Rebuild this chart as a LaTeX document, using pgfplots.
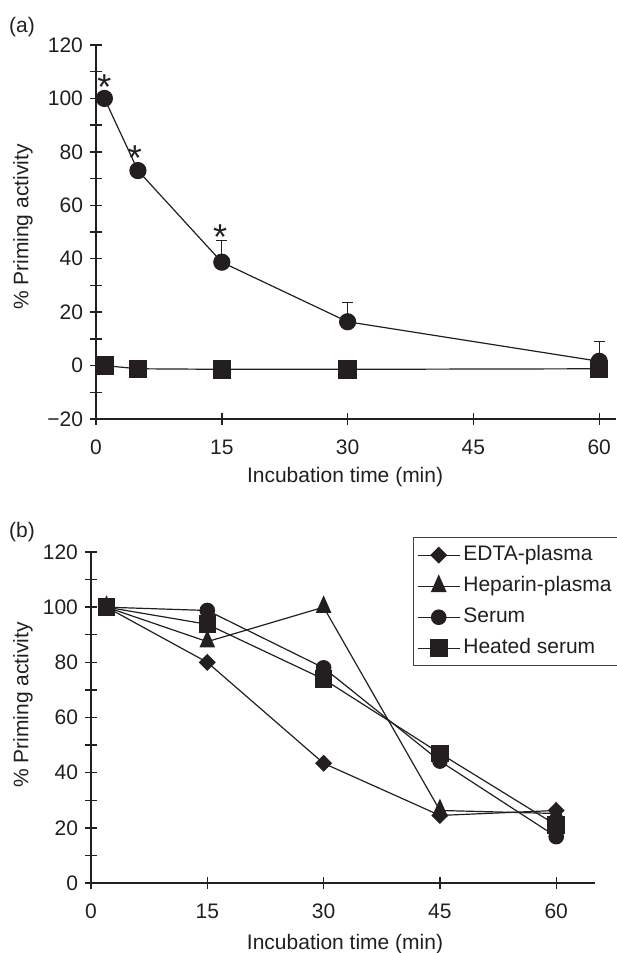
\documentclass[border=0pt]{standalone}
\usepackage{fontspec}
\setmainfont{Liberation Sans}
\usepackage{pgfplots}
\pgfplotsset{compat=1.18}
\definecolor{ink}{RGB}{35,31,32}

\pgfplotsset{
  panel/.style={
    scale only axis,
    axis x line=bottom, axis y line=left,
    axis line style={-, line width=0.8pt, draw=ink},
    tick align=center,
    major tick length=6pt, minor tick length=6pt,
    every tick/.style={line width=0.7pt, draw=ink},
    every minor tick/.style={line width=0.7pt, draw=ink},
    tick label style={font=\fontsize{10.5}{12}\selectfont, text=ink},
    xticklabel style={yshift=-4pt},
    label style={font=\fontsize{10.5}{12}\selectfont, text=ink},
    /pgf/number format/assume math mode=true,
    xtick={0,15,30,45,60},
    clip=false,
  },
}

\begin{document}
\begin{tikzpicture}
\useasboundingbox (0,0) rectangle (308pt,-476.5pt);

\node[font=\fontsize{10.5}{12}\selectfont, text=ink] at (11pt,-13.5pt) {(a)};
\node[font=\fontsize{10.5}{12}\selectfont, text=ink] at (11pt,-266pt) {(b)};

% panel (a)
\begin{axis}[panel,
    at={(48pt,-209.5pt)}, anchor=south west,
    width=260pt, height=187pt,
    xmin=0, xmax=62, ymin=-20, ymax=120,
    ytick={-20,0,...,120},
    yticklabels={−20,0,20,40,60,80,100,120},
    minor ytick={-10,10,...,110},
    xlabel={Incubation time (min)},
    ylabel={\% Priming activity},
    xlabel style={at={(axis description cs:0.479,0)}, anchor=base, yshift=-31.5pt},
    ylabel style={at={(axis description cs:0,0.513)}, anchor=center, yshift=36.5pt},
]
\addplot[ink, line width=0.6pt, mark=*, mark size=4pt,
    mark options={solid, fill=ink, draw=ink},
    error bars/.cd, y dir=plus, y explicit, error mark=-,
    error mark options={rotate=90, draw=ink, line width=0.6pt, mark size=2.75pt},
    error bar style={draw=ink, line width=0.6pt}]
  coordinates {
    (1,100) +- (0,0)
    (5,73) +- (0,0)
    (15,38.7) +- (0,8)
    (30,16.4) +- (0,7.1)
    (60,1.6) +- (0,7.4)
  };
\addplot[ink, line width=0.6pt, mark=square*, mark size=4.3pt,
    mark options={solid, fill=ink, draw=ink}]
  coordinates {(1,0) (5,-1.2) (15,-1.4) (30,-1.4) (60,-1.2)};

\node[anchor=north, inner sep=0pt, font=\fontsize{18}{18}\selectfont, text=ink] at (axis cs:1,109.2) {*};
\node[anchor=north, inner sep=0pt, font=\fontsize{18}{18}\selectfont, text=ink] at (axis cs:4.65,82.6) {*};
\node[anchor=north, inner sep=0pt, font=\fontsize{18}{18}\selectfont, text=ink] at (axis cs:14.8,53) {*};
\end{axis}

% panel (b)
\begin{axis}[panel,
    at={(45.5pt,-441.5pt)}, anchor=south west,
    width=252pt, height=165.5pt,
    xmin=0, xmax=65, ymin=0, ymax=120,
    ytick={0,20,...,120},
    minor ytick={10,30,...,110},
    xlabel={Incubation time (min)},
    ylabel={\% Priming activity},
    xlabel style={at={(axis description cs:0.504,0)}, anchor=base, yshift=-33pt},
    ylabel style={at={(axis description cs:0,0.538)}, anchor=center, yshift=34pt},
    legend cell align=left,
    legend image code/.code={\draw[mark repeat=2, mark phase=2, #1] plot coordinates {(0pt,0pt) (10.5pt,0pt) (21pt,0pt)};},
    legend style={at={(axis description cs:0.638,1.045)}, anchor=north west,
      draw=ink!85, line width=0.6pt, text=ink,
      font=\fontsize{10.5}{12}\selectfont,
      inner xsep=2pt, inner ysep=1pt, row sep=0pt,
      nodes={inner xsep=1.5pt, inner ysep=2.5pt, text height=8pt, text depth=2.5pt}},
]
\addplot[ink, line width=0.6pt, mark=square*, mark size=2.7pt,
    mark options={solid, rotate=45, fill=ink, draw=ink}]
  coordinates {(2,100) (15,80) (30,43.4) (45,24.5) (60,26.3)};
\addlegendentry{EDTA-plasma}
\addplot[ink, line width=0.6pt, mark=triangle*, mark size=4pt,
    mark options={solid, yscale=1.3, fill=ink, draw=ink}]
  coordinates {(2,100) (15,87.5) (30,100) (45,26.3) (60,25.2)};
\addlegendentry{Heparin-plasma}
\addplot[ink, line width=0.6pt, mark=*, mark size=3.6pt,
    mark options={solid, fill=ink, draw=ink}]
  coordinates {(2,100) (15,98.8) (30,78) (45,44.2) (60,16.8)};
\addlegendentry{Serum}
\addplot[ink, line width=0.6pt, mark=square*, mark size=4.1pt,
    mark options={solid, fill=ink, draw=ink}]
  coordinates {(2,100) (15,93.8) (30,73.9) (45,47) (60,21)};
\addlegendentry{Heated serum}
\end{axis}
\end{tikzpicture}
\end{document}
